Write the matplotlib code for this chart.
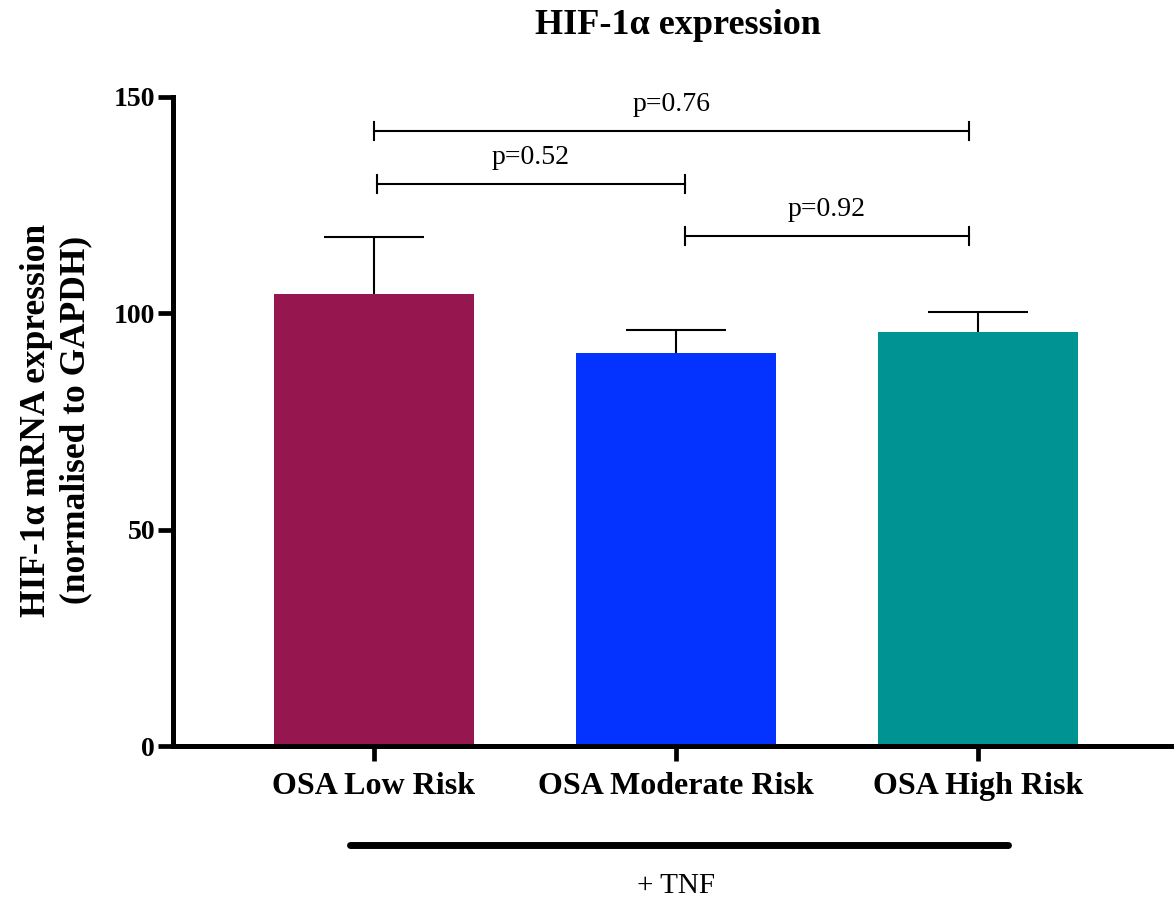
import matplotlib
matplotlib.use("Agg")
import matplotlib.pyplot as plt
import numpy as np

categories = ["OSA Low Risk", "OSA Moderate Risk", "OSA High Risk"]
means = [104.5, 90.8, 95.7]
sem = [13.1, 5.3, 4.6]
colors = ["#96174F", "#0433FF", "#009393"]
yticks = [0, 50, 100, 150]
comparisons = [(0.01, 1.03, "p=0.52", 129.9), (1.03, 1.97, "p=0.92", 117.9), (0.0, 1.97, "p=0.76", 142.1)]

plt.rcParams['font.family'] = ['Liberation Serif', 'DejaVu Serif']

fig = plt.figure(figsize=(11.74, 9.02), dpi=100)
ax = fig.add_axes([0.1474, 0.1729, 0.8526, 0.7196])

x = np.arange(len(categories))
bar_w = 0.662
ax.bar(x, means, width=bar_w, color=colors, zorder=2)
tops = np.array(means) + np.array(sem)
ax.vlines(x, means, tops, color='black', lw=1.5, zorder=1)
ax.hlines(tops, x - bar_w / 4, x + bar_w / 4, color='black', lw=1.5, zorder=1)

ax.set_xlim(-0.6656, 2.649)
ax.set_ylim(0, 150)
ax.set_yticks(yticks)
ax.set_xticks(x)
ax.set_xticklabels(categories, fontsize=23, fontweight='bold')
ax.set_yticklabels([str(t) for t in yticks], fontsize=20, fontweight='bold')

for s in ['top', 'right']:
    ax.spines[s].set_visible(False)
for s in ['left', 'bottom']:
    ax.spines[s].set_linewidth(3.6)
ax.tick_params(axis='both', length=11, width=3.4)
ax.tick_params(axis='x', pad=8)
ax.tick_params(axis='y', pad=2)

fig.text(56 / 1174, 1 - 420 / 902, "HIF-1α mRNA expression\n(normalised to GAPDH)",
         fontsize=25.5, fontweight='bold', rotation=90, ha='center', va='center',
         linespacing=1.25, multialignment='center')
fig.text(0.5775, 0.972, "HIF-1α expression", fontsize=26, fontweight='bold',
         ha='center', va='center')

# significance brackets
for xi, xj, label, yv in comparisons:
    ax.plot([xi, xj], [yv, yv], color='black', lw=1.5, clip_on=False)
    ax.plot([xi, xi], [yv - 2, yv + 2], color='black', lw=1.5, clip_on=False)
    ax.plot([xj, xj], [yv - 2, yv + 2], color='black', lw=1.5, clip_on=False)
    ax.text((xi + xj) / 2, yv + 3.2, label, fontsize=20, ha='center', va='bottom')

# treatment line
trans = ax.get_xaxis_transform()
ax.plot([-0.079, 2.099], [-0.1525, -0.1525], transform=trans, color='black',
        lw=5, solid_capstyle='round', clip_on=False)
ax.text(1.0, -0.2157, "+ TNF", transform=trans, fontsize=21, ha='center', va='center')

fig.savefig("out.png", dpi=100)
